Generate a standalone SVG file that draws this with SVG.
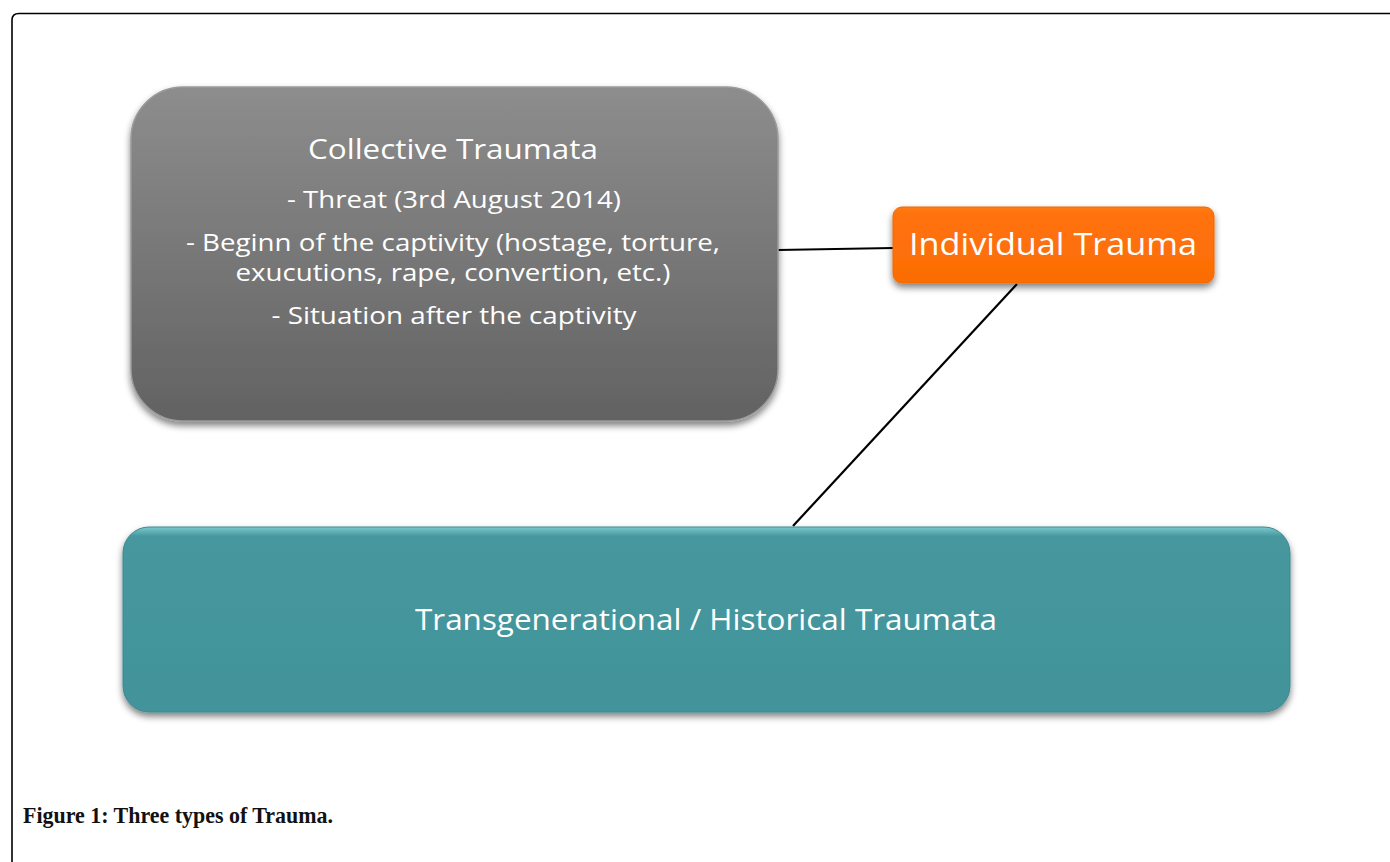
<svg xmlns="http://www.w3.org/2000/svg" width="1390" height="862" viewBox="0 0 1390 862">
<style>
.lbl{font-family:"Open Sans","Liberation Sans",sans-serif;fill:#ffffff;text-anchor:middle}
.conn{stroke:#000000;stroke-width:2.2;fill:none}
.cap{font-family:"Liberation Serif","DejaVu Serif",serif;font-weight:bold;fill:#111111}
</style>
<defs>
<linearGradient id="gGray" x1="0" y1="0" x2="0" y2="1">
<stop offset="0" stop-color="#8d8d8d"/>
<stop offset="1" stop-color="#626262"/>
</linearGradient>
<linearGradient id="gOrange" x1="0" y1="0" x2="0" y2="1">
<stop offset="0" stop-color="#ff7a14"/>
<stop offset="0.1" stop-color="#ff720a"/>
<stop offset="1" stop-color="#fb6d05"/>
</linearGradient>
<linearGradient id="gTeal" x1="0" y1="0" x2="0" y2="1">
<stop offset="0" stop-color="#7cc9cf"/>
<stop offset="0.05" stop-color="#46989e"/>
<stop offset="1" stop-color="#42939a"/>
</linearGradient>
<filter id="sh" x="-10%" y="-10%" width="120%" height="130%">
<feGaussianBlur in="SourceAlpha" stdDeviation="3.5"/>
<feOffset dx="0" dy="4" result="b"/>
<feComponentTransfer><feFuncA type="linear" slope="0.5"/></feComponentTransfer>
<feMerge><feMergeNode/><feMergeNode in="SourceGraphic"/></feMerge>
</filter>
</defs>
<rect width="1390" height="862" fill="#ffffff"/>
<path d="M12 862 V20 Q12 13.5 19 13.5 H1390" fill="none" stroke="#000000" stroke-width="1.6"/>
<g id="connectors">
<line class="conn" x1="778" y1="250" x2="893" y2="248"/>
<line class="conn" x1="1017" y1="284" x2="793" y2="526"/>
</g>
<g id="node-collective">
<rect x="131" y="87" width="647" height="334" rx="52" ry="52" fill="url(#gGray)" stroke="#9a9a9a" stroke-width="1.5" filter="url(#sh)"/>
<text class="lbl" x="453" y="159" font-size="27" textLength="290" lengthAdjust="spacingAndGlyphs">Collective Traumata</text>
<text class="lbl" x="454" y="208" font-size="24.5" textLength="334" lengthAdjust="spacingAndGlyphs">- Threat (3rd August 2014)</text>
<text class="lbl" x="453" y="251" font-size="24.5" textLength="534" lengthAdjust="spacingAndGlyphs">- Beginn of the captivity (hostage, torture,</text>
<text class="lbl" x="453" y="281" font-size="24.5" textLength="435" lengthAdjust="spacingAndGlyphs">exucutions, rape, convertion, etc.)</text>
<text class="lbl" x="454" y="324" font-size="24.5" textLength="365" lengthAdjust="spacingAndGlyphs">- Situation after the captivity</text>
</g>
<g id="node-individual">
<rect x="893" y="207" width="321" height="76" rx="9" ry="9" fill="url(#gOrange)" stroke="#f06a00" stroke-width="1" filter="url(#sh)"/>
<text class="lbl" x="1053" y="255" font-size="31" textLength="288" lengthAdjust="spacingAndGlyphs">Individual Trauma</text>
</g>
<g id="node-transgenerational">
<rect x="123" y="527" width="1167" height="185" rx="26" ry="26" fill="url(#gTeal)" stroke="#3d8990" stroke-width="1" filter="url(#sh)"/>
<text class="lbl" x="706" y="630" font-size="30" textLength="582" lengthAdjust="spacingAndGlyphs">Transgenerational / Historical Traumata</text>
</g>
<text class="cap" x="23" y="823" font-size="23" textLength="310" lengthAdjust="spacingAndGlyphs">Figure 1: Three types of Trauma.</text>
</svg>
